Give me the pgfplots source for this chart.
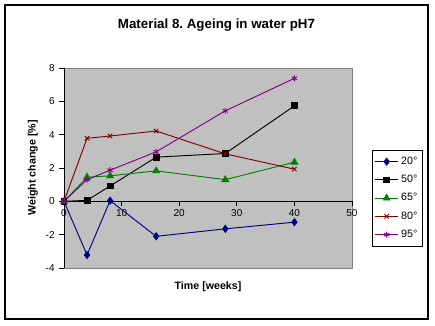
\documentclass[border=0pt]{standalone}
\usepackage{pgfplots}
\pgfplotsset{compat=1.18}
\usepackage{fontspec}
\setmainfont{Liberation Sans}
\frenchspacing
\definecolor{plotbg}{RGB}{192,192,192}
\definecolor{c20}{RGB}{0,0,128}
\definecolor{c65}{RGB}{0,128,0}
\definecolor{c80}{RGB}{128,0,0}
\definecolor{c95}{RGB}{128,0,128}
\begin{document}
\begin{tikzpicture}[x=0.75pt,y=-0.75pt]
\fill[white] (0,0) rectangle (435,325);
\draw[black, line width=0.9pt] (5,5) rectangle (428,319);
\node[font=\bfseries\fontsize{10}{12}\selectfont] at (216.5,25) {Material 8. Ageing in water pH7};
\begin{axis}[
  at={(48pt,-201pt)}, anchor=south west,
  scale only axis, width=216pt, height=150pt,
  xmin=0, xmax=50, ymin=-4, ymax=8,
  axis x line=middle, axis y line=left,
  axis line style={-, black, line width=0.6pt},
  axis background/.style={fill=plotbg, draw=gray, line width=0.6pt},
  xtick={0,10,...,50}, ytick={-4,-2,...,8},
  tick align=outside, major tick length=3.5pt,
  tick style={black, line width=0.6pt},
  hide obscured x ticks=false,
  ticklabel style={font=\fontsize{7.5}{9}\selectfont},
  /pgf/number format/assume math mode=true,
  xticklabel style={yshift=1pt},
  xlabel={Time [weeks]}, ylabel={Weight change [\%]},
  label style={font=\bfseries\fontsize{8}{10}\selectfont},
  xlabel style={at={(axis description cs:0.5,-0.095)}, anchor=center},
  ylabel style={at={(axis description cs:-0.108,0.5)}, anchor=center},
  clip=false,
  legend style={at={(axis description cs:1.069,0.59)}, anchor=north west,
    draw=black, fill=white, font=\fontsize{8}{9.5}\selectfont,
    row sep=2.6pt, inner xsep=2pt, inner ysep=3pt},
  legend cell align=left,
  every axis plot/.append style={line width=0.7pt},
]
\addplot[c20, mark=diamond*, mark size=2.6pt, mark options={fill=c20}] coordinates {(0,0) (4,-3.22) (8,0.04) (16,-2.1) (28,-1.65) (40,-1.25)};
\addlegendentry{20°}
\addplot[black, mark=square*, mark size=2.2pt] coordinates {(0,0) (4,0.06) (8,0.92) (16,2.65) (28,2.87) (40,5.73)};
\addlegendentry{50°}
\addplot[c65, mark=triangle*, mark size=2.8pt, mark options={fill=c65}] coordinates {(0,0) (4,1.45) (8,1.53) (16,1.83) (28,1.3) (40,2.35)};
\addlegendentry{65°}
\addplot[c80, mark=x, mark size=2.3pt] coordinates {(0,0) (4,3.78) (8,3.92) (16,4.22) (28,2.85) (40,1.93)};
\addlegendentry{80°}
\addplot[c95, mark=asterisk, mark size=2.3pt] coordinates {(0,0) (4,1.3) (8,1.87) (16,2.97) (28,5.43) (40,7.38)};
\addlegendentry{95°}
\end{axis}
\end{tikzpicture}
\end{document}
